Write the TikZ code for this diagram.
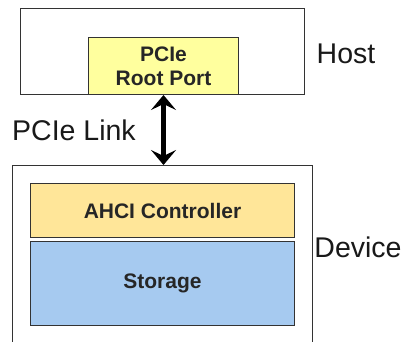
\documentclass[tikz,border=0pt]{standalone}
\usepackage{fontspec}
\setmainfont{Liberation Sans}
\usetikzlibrary{arrows.meta}
\definecolor{rootyel}{HTML}{FFFF9E}
\definecolor{ahciyel}{HTML}{FFE699}
\definecolor{storblue}{HTML}{A6CAF0}
\definecolor{edge}{HTML}{333333}
\tikzset{
  box/.style={draw=edge, line width=1pt, rectangle, inner sep=0pt, anchor=north west},
  inner/.style={box, font=\fontsize{21}{25}\selectfont\bfseries, align=center, text=black!85},
  biglabel/.style={font=\fontsize{28.5}{32}\selectfont, text=black!90, inner sep=0pt},
  linkarrow/.style={line width=4.5pt, >={Stealth[length=15pt,width=25pt,inset=6pt]}, <->},
}
\begin{document}
\begin{tikzpicture}[x=1pt,y=-1pt]
\useasboundingbox (0,0) rectangle (414,341);
\clip (0,0) rectangle (414,341);
\fill[white] (0,0) rectangle (414,341);
% Host
\node[box, minimum width=284pt, minimum height=86pt] (host) at (20,8) {};
\node[inner, fill=rootyel, minimum width=150pt, minimum height=57pt] (root) at (88,37) {PCIe\\[-1pt]Root Port};
\node[biglabel] (hostlbl) at (346,54) {Host};
% Device
\node[box, minimum width=300pt, minimum height=190pt] (dev) at (12,165) {};
\node[inner, fill=ahciyel, minimum width=264pt, minimum height=54pt] (ahci) at (30,183) {AHCI Controller};
\node[inner, fill=storblue, minimum width=264pt, minimum height=84pt] (stor) at (30,241) {Storage};
\node[biglabel] (devlbl) at (358,247) {Device};
% Link
\coordinate (top) at (root.south);
\coordinate (bot) at (root.south |- dev.north);
\draw[linkarrow] (top) -- (bot);
\node[biglabel] (link) at (74,130) {PCIe Link};
\end{tikzpicture}
\end{document}
